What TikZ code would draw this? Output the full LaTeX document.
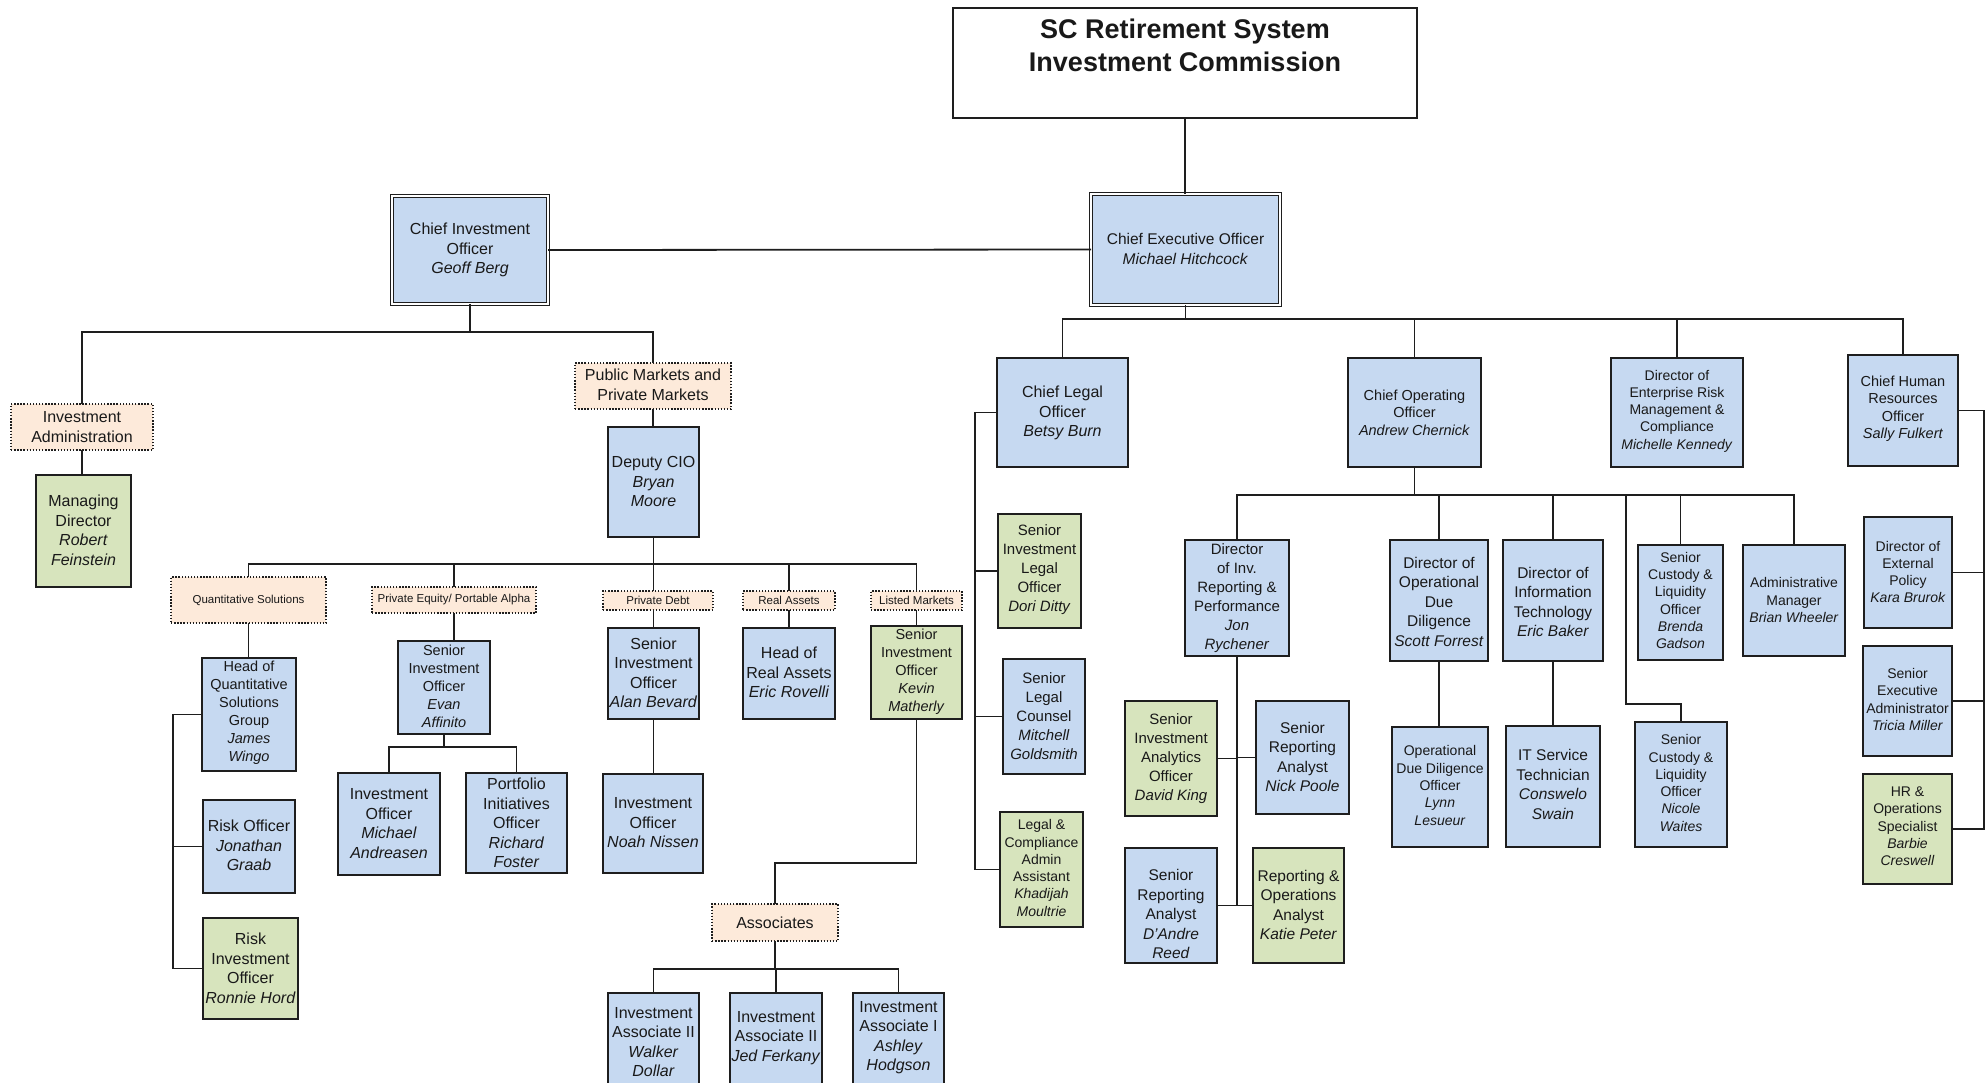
\documentclass[tikz,border=0pt]{standalone}
\usepackage{fontspec}
\setmainfont{Liberation Sans}
\definecolor{boxblue}{HTML}{C6D9F1}
\definecolor{boxgreen}{HTML}{D7E4BD}
\definecolor{boxpeach}{HTML}{FDEADA}
\definecolor{edgec}{HTML}{1E1E1E}
\tikzset{
 bx/.style={draw=edgec, line width=1.9pt, inner sep=0pt, outer sep=0pt},
 bluebox/.style={bx, fill=boxblue},
 greenbox/.style={bx, fill=boxgreen},
 grpbox/.style={draw=edgec, line width=1.6pt, dash pattern=on 1.4pt off 1.7pt, fill=boxpeach, inner sep=0pt, outer sep=0pt},
 dblbox/.style={draw=edgec, fill=boxblue, line width=1.2pt, double=white, double distance=1.8pt, inner sep=0pt, outer sep=0pt},
 plainbox/.style={bx, fill=white, line width=1.5pt},
 txt/.style={inner sep=0pt, align=center, text=black!90},
 fA/.style={font=\fontsize{16}{19.5}\selectfont},
 fB/.style={font=\fontsize{14.5}{18}\selectfont},
 fC/.style={font=\fontsize{14.5}{17.5}\selectfont},
 fD/.style={font=\fontsize{14}{17.3}\selectfont},
 fE/.style={font=\fontsize{15.5}{19.5}\selectfont},
 fF/.style={font=\fontsize{15}{19}\selectfont},
 fL/.style={font=\fontsize{11.5}{14}\selectfont},
 fT/.style={font=\fontsize{27}{33}\selectfont\bfseries},
 conn/.style={draw=edgec, line width=1.8pt},
}
\newcommand\OrgBox[9]{%
 \node[#6, minimum width={(#4)-(#2)}, minimum height={(#5)-(#3)}] (#1) at ({((#2)+(#4))/2},{((#3)+(#5))/2}) {};
 \node[txt,#7] (#1-t) at ({((#2)+(#4))/2},#8) {#9};}
\begin{document}
\begin{tikzpicture}[x=1pt,y=-1pt]
\useasboundingbox (0,0) rectangle (1986,1082);
\clip (0,0) rectangle (1986,1082);
\fill[white] (0,0) rectangle (1986,1082);

% top
\OrgBox{title}{953}{8}{1417}{118}{plainbox}{fT}{45.5}{SC Retirement System\\Investment Commission}
\OrgBox{ceo}{1091}{194}{1280}{305}{dblbox}{fE}{249}{Chief Executive Officer\\\textit{Michael Hitchcock}}
\OrgBox{cio}{392}{196}{548}{304}{dblbox}{fA}{250}{Chief Investment\\Officer\\\textit{Geoff Berg}}

% investment side
\OrgBox{invadmin}{11}{404}{153}{450}{grpbox}{fA}{427}{Investment\\Administration}
\OrgBox{md}{36}{475}{131}{587}{greenbox}{fA}{530.5}{Managing\\Director\\\textit{Robert}\\\textit{Feinstein}}
\OrgBox{pm}{575}{363}{731}{409}{grpbox}{fA}{385}{Public Markets and\\Private Markets}
\OrgBox{dcio}{608}{427}{699}{537}{bluebox}{fA}{481.5}{Deputy CIO\\\textit{Bryan}\\\textit{Moore}}
\OrgBox{quant}{171}{577}{326}{623}{grpbox}{fL}{600}{Quantitative Solutions}
\OrgBox{pe}{372}{587}{536}{613}{grpbox}{fL}{600}{Private Equity/ Portable Alpha}
\OrgBox{pd}{603}{591}{713}{610}{grpbox}{fL}{600.5}{Private Debt}
\OrgBox{ra}{743}{591}{835}{610}{grpbox}{fL}{600.5}{Real Assets}
\OrgBox{lm}{871}{591}{962}{610}{grpbox}{fL}{600.5}{Listed Markets}
\OrgBox{hq}{202}{658}{296}{771}{bluebox}{fB}{713}{Head of\\Quantitative\\Solutions\\Group\\\textit{James}\\\textit{Wingo}}
\OrgBox{ro}{203}{800}{295}{893}{bluebox}{fA}{845.5}{Risk Officer\\\textit{Jonathan}\\\textit{Graab}}
\OrgBox{rio}{203}{918}{298}{1019}{greenbox}{fA}{968.5}{Risk\\Investment\\Officer\\\textit{Ronnie Hord}}
\OrgBox{evan}{398}{641}{490}{734}{bluebox}{fB}{686.5}{Senior\\Investment\\Officer\\\textit{Evan}\\\textit{Affinito}}
\OrgBox{mich}{338}{773}{440}{875}{bluebox}{fA}{823.5}{Investment\\Officer\\\textit{Michael}\\\textit{Andreasen}}
\OrgBox{rich}{466}{773}{567}{873}{bluebox}{fA}{823}{Portfolio\\Initiatives\\Officer\\\textit{Richard}\\\textit{Foster}}
\OrgBox{alan}{608}{628}{699}{719}{bluebox}{fA}{673}{Senior\\Investment\\Officer\\\textit{Alan Bevard}}
\OrgBox{noah}{603}{774}{703}{873}{bluebox}{fA}{823}{Investment\\Officer\\\textit{Noah Nissen}}
\OrgBox{eric}{743}{628}{835}{719}{bluebox}{fA}{672.5}{Head of\\Real Assets\\\textit{Eric Rovelli}}
\OrgBox{kevin}{871}{626}{962}{719}{greenbox}{fB}{671.5}{Senior\\Investment\\Officer\\\textit{Kevin}\\\textit{Matherly}}
\OrgBox{assoc}{712}{904}{838}{941}{grpbox}{fA}{922.5}{Associates}
\OrgBox{walker}{608}{993}{699}{1092}{bluebox}{fA}{1042}{Investment\\Associate II\\\textit{Walker}\\\textit{Dollar}}
\OrgBox{jed}{730}{993}{822}{1092}{bluebox}{fA}{1038}{Investment\\Associate II\\\textit{Jed Ferkany}}
\OrgBox{ashley}{853}{993}{944}{1092}{bluebox}{fA}{1037.5}{Investment\\Associate I\\\textit{Ashley}\\\textit{Hodgson}}

% executive side
\OrgBox{legal}{997}{358}{1128}{467}{bluebox}{fA}{413}{Chief Legal\\Officer\\\textit{Betsy Burn}}
\OrgBox{coo}{1348}{358}{1481}{467}{bluebox}{fC}{412.5}{Chief Operating\\Officer\\\textit{Andrew Chernick}}
\OrgBox{erm}{1611}{358}{1743}{467}{bluebox}{fD}{411}{Director of\\Enterprise Risk\\Management \&\\Compliance\\\textit{Michelle Kennedy}}
\OrgBox{hr}{1848}{355}{1958}{466}{bluebox}{fC}{408.5}{Chief Human\\Resources\\Officer\\\textit{Sally Fulkert}}
\OrgBox{dori}{998}{514}{1081}{628}{greenbox}{fF}{570}{Senior\\Investment\\Legal\\Officer\\\textit{Dori Ditty}}
\OrgBox{mitch}{1003}{659}{1085}{774}{bluebox}{fF}{716}{Senior\\Legal\\Counsel\\\textit{Mitchell}\\\textit{Goldsmith}}
\OrgBox{khad}{1000}{812}{1083}{927}{greenbox}{fD}{868}{Legal \&\\Compliance\\Admin\\Assistant\\\textit{Khadijah}\\\textit{Moultrie}}
\OrgBox{dir}{1185}{540}{1289}{656}{bluebox}{fF}{598}{Director\\of Inv.\\Reporting \&\\Performance\\\textit{Jon}\\\textit{Rychener}}
\OrgBox{odd}{1390}{540}{1488}{661}{bluebox}{fE}{601.5}{Director of\\Operational\\Due\\Diligence\\\textit{Scott Forrest}}
\OrgBox{it}{1503}{540}{1603}{661}{bluebox}{fE}{602}{Director of\\Information\\Technology\\\textit{Eric Baker}}
\OrgBox{brenda}{1638}{545}{1723}{660}{bluebox}{fD}{600.5}{Senior\\Custody \&\\Liquidity\\Officer\\\textit{Brenda}\\\textit{Gadson}}
\OrgBox{admin}{1743}{545}{1845}{656}{bluebox}{fD}{600}{Administrative\\Manager\\\textit{Brian Wheeler}}
\OrgBox{king}{1125}{701}{1217}{816}{greenbox}{fF}{759}{Senior\\Investment\\Analytics\\Officer\\\textit{David King}}
\OrgBox{nick}{1256}{701}{1349}{814}{bluebox}{fE}{757}{Senior\\Reporting\\Analyst\\\textit{Nick Poole}}
\OrgBox{dandre}{1125}{848}{1217}{963}{bluebox}{fE}{914}{Senior\\Reporting\\Analyst\\\textit{D'Andre}\\\textit{Reed}}
\OrgBox{katie}{1253}{848}{1344}{963}{greenbox}{fE}{905}{Reporting \&\\Operations\\Analyst\\\textit{Katie Peter}}
\OrgBox{lynn}{1392}{727}{1488}{847}{bluebox}{fD}{785.5}{Operational\\Due Diligence\\Officer\\\textit{Lynn}\\\textit{Lesueur}}
\OrgBox{itsvc}{1506}{726}{1600}{847}{bluebox}{fE}{784.5}{IT Service\\Technician\\\textit{Conswelo}\\\textit{Swain}}
\OrgBox{nicole}{1635}{722}{1727}{847}{bluebox}{fD}{783}{Senior\\Custody \&\\Liquidity\\Officer\\\textit{Nicole}\\\textit{Waites}}
\OrgBox{kara}{1864}{517}{1952}{628}{bluebox}{fD}{572}{Director of\\External\\Policy\\\textit{Kara Brurok}}
\OrgBox{tricia}{1863}{646}{1952}{756}{bluebox}{fD}{699.5}{Senior\\Executive\\Administrator\\\textit{Tricia Miller}}
\OrgBox{barbie}{1863}{774}{1952}{884}{greenbox}{fD}{826.5}{HR \&\\Operations\\Specialist\\\textit{Barbie}\\\textit{Creswell}}

% helper coordinates
\coordinate (busA) at (0,332);
\coordinate (busB) at (0,564);
\coordinate (busC) at (0,747);
\coordinate (kb) at (0,863);
\coordinate (busD) at (0,969);
\coordinate (busE) at (0,319);
\coordinate (busF) at (0,495);
\coordinate (qx) at (173,0);
\coordinate (lx) at (975,0);
\coordinate (hx) at (1984,0);
\coordinate (csplit) at (1626,704);

% connectors: investment side
\draw[conn] (title.south) -- (title.south |- ceo.north);
\draw[conn] (cio.east) -- (ceo.west);
\draw[conn] (cio.south) -- (cio.south |- busA);
\draw[conn] (invadmin.north) -- (invadmin.north |- busA) -| (pm.north);
\draw[conn] (invadmin.south) -- (invadmin.south |- md.north);
\draw[conn] (pm.south) -- (pm.south |- dcio.north);
\draw[conn] (dcio.south) -- (dcio.south |- busB);
\draw[conn] (quant.north) -- (quant.north |- busB) -| (lm.north);
\draw[conn] (pe.north) -- (pe.north |- busB);
\draw[conn] (ra.north) -- (ra.north |- busB);
\draw[conn] (dcio.south |- busB) -- (dcio.south |- pd.north);
\draw[conn] (quant.south) -- (quant.south |- hq.north);
\draw[conn] (hq.west) -- (hq.west -| qx) |- (rio.west);
\draw[conn] (ro.west) -- (ro.west -| qx);
\draw[conn] (pe.south) -- (pe.south |- evan.north);
\draw[conn] (evan.south) -- (evan.south |- busC);
\draw[conn] (mich.north) -- (mich.north |- busC) -| (rich.north);
\draw[conn] (alan.north) -- (alan.north |- pd.south);
\draw[conn] (alan.south) -- (alan.south |- noah.north);
\draw[conn] (ra.south) -- (ra.south |- eric.north);
\draw[conn] (lm.south) -- (lm.south |- kevin.north);
\draw[conn] (kevin.south) -- (kevin.south |- kb) -| (assoc.north);
\draw[conn] (assoc.south) -- (assoc.south |- busD);
\draw[conn] (walker.north) -- (walker.north |- busD) -| (ashley.north);
\draw[conn] (jed.north) -- (jed.north |- busD);

% connectors: executive side
\draw[conn] (ceo.south) -- (ceo.south |- busE);
\draw[conn] (legal.north) -- (legal.north |- busE) -| (hr.north);
\draw[conn] (coo.north) -- (coo.north |- busE);
\draw[conn] (erm.north) -- (erm.north |- busE);
\draw[conn] (legal.west) -- (legal.west -| lx) |- (khad.west);
\draw[conn] (dori.west) -- (dori.west -| lx);
\draw[conn] (mitch.west) -- (mitch.west -| lx);
\draw[conn] (coo.south) -- (coo.south |- busF);
\draw[conn] (dir.north) -- (dir.north |- busF) -| (admin.north);
\draw[conn] (odd.north) -- (odd.north |- busF);
\draw[conn] (it.north) -- (it.north |- busF);
\draw[conn] (brenda.north) -- (brenda.north |- busF);
\draw[conn] (csplit |- busF) -- (csplit) -| (nicole.north);
\draw[conn] (odd.south) -- (odd.south |- lynn.north);
\draw[conn] (it.south) -- (it.south |- itsvc.north);
\draw[conn] (dir.south) -- (dir.south |- dandre.east);
\draw[conn] (king.east) -- (king.east -| dir.south);
\draw[conn] (nick.west) -- (nick.west -| dir.south);
\draw[conn] (dandre.east) -- (katie.west);
\draw[conn] (hr.east) -- (hr.east -| hx) |- (barbie.east);
\draw[conn] (kara.east) -- (kara.east -| hx);
\draw[conn] (tricia.east) -- (tricia.east -| hx);
\end{tikzpicture}
\end{document}
